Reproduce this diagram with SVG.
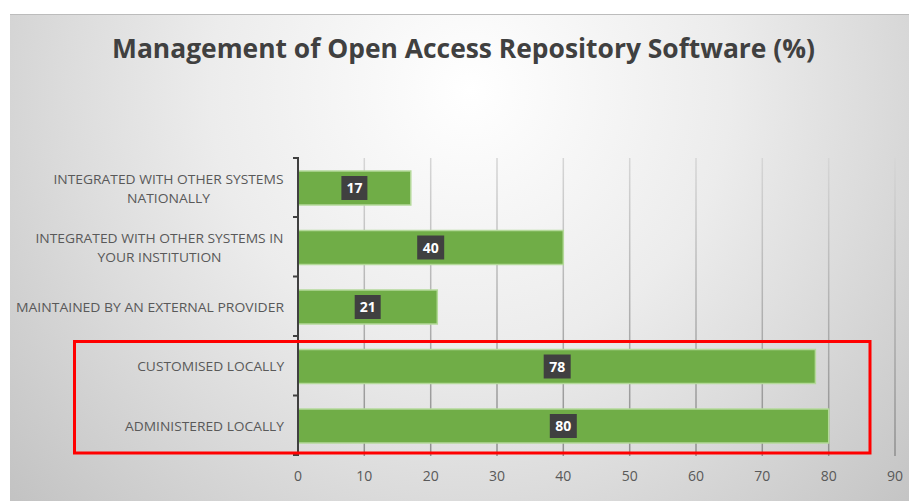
<svg xmlns="http://www.w3.org/2000/svg" width="909" height="501" viewBox="0 0 909 501">
  <defs>
    <radialGradient id="bgGrad" gradientUnits="userSpaceOnUse" cx="470" cy="90" r="620">
      <stop offset="0" stop-color="#ffffff"/>
      <stop offset="0.42" stop-color="#ececec"/>
      <stop offset="0.65" stop-color="#dcdcdc"/>
      <stop offset="1" stop-color="#c2c2c2"/>
    </radialGradient>
    <linearGradient id="gridGrad" gradientUnits="userSpaceOnUse" x1="0" y1="158" x2="0" y2="456">
      <stop offset="0" stop-color="#d6d6d6"/>
      <stop offset="1" stop-color="#8e8e8e"/>
    </linearGradient>
  </defs>
  <style>
    .title { font-family: "Open Sans", "Liberation Sans", sans-serif; font-weight: 700; font-size: 26px; fill: #404040; }
    .cat { font-family: "Open Sans", "Liberation Sans", sans-serif; font-size: 13.5px; fill: #595959; text-anchor: middle; }
    .tick { font-family: "Open Sans", "Liberation Sans", sans-serif; font-size: 14px; fill: #595959; text-anchor: middle; }
    .bar { fill: #70ad47; stroke: #b4d99a; stroke-width: 1.5; }
    .vbox { fill: #404040; }
    .val { font-family: "Open Sans", "Liberation Sans", sans-serif; font-weight: 700; font-size: 14px; fill: #ffffff; text-anchor: middle; }
    .grid { stroke: url(#gridGrad); stroke-width: 1.5; }
    .axis { stroke: #404040; stroke-width: 2; fill: none; }
    .highlight { fill: none; stroke: #ff0000; stroke-width: 3; }
  </style>

  <!-- chart background -->
  <rect x="0" y="0" width="909" height="501" fill="#ffffff"/>
  <rect x="10" y="14" width="899" height="487" fill="url(#bgGrad)"/>
  <line x1="10" y1="14.5" x2="909" y2="14.5" stroke="#bcbcbc" stroke-width="1"/>

  <!-- title -->
  <text class="title" x="112" y="57.5" textLength="703" lengthAdjust="spacingAndGlyphs">Management of Open Access Repository Software (%)</text>

  <!-- vertical gridlines, 10 to 90 -->
  <g id="gridlines">
    <line class="grid" x1="364.3" y1="158" x2="364.3" y2="456"/>
    <line class="grid" x1="430.7" y1="158" x2="430.7" y2="456"/>
    <line class="grid" x1="497" y1="158" x2="497" y2="456"/>
    <line class="grid" x1="563.3" y1="158" x2="563.3" y2="456"/>
    <line class="grid" x1="629.7" y1="158" x2="629.7" y2="456"/>
    <line class="grid" x1="696" y1="158" x2="696" y2="456"/>
    <line class="grid" x1="762.3" y1="158" x2="762.3" y2="456"/>
    <line class="grid" x1="828.7" y1="158" x2="828.7" y2="456"/>
    <line class="grid" x1="895" y1="158" x2="895" y2="456"/>
  </g>

  <!-- bars -->
  <g id="bar-nationally">
    <rect class="bar" x="298" y="171" width="112.8" height="34"/>
    <rect class="vbox" x="341.4" y="176" width="26" height="24"/>
    <text class="val" x="354.4" y="193.2">17</text>
  </g>
  <g id="bar-institution">
    <rect class="bar" x="298" y="230.5" width="265.3" height="34"/>
    <rect class="vbox" x="417.2" y="235.5" width="27" height="24"/>
    <text class="val" x="430.7" y="252.7">40</text>
  </g>
  <g id="bar-external">
    <rect class="bar" x="298" y="290" width="139.3" height="34"/>
    <rect class="vbox" x="354.7" y="295" width="26" height="24"/>
    <text class="val" x="367.7" y="312.2">21</text>
  </g>
  <g id="bar-customised">
    <rect class="bar" x="298" y="349.5" width="517.4" height="34"/>
    <rect class="vbox" x="543.7" y="354.5" width="27" height="24"/>
    <text class="val" x="557.2" y="371.7">78</text>
  </g>
  <g id="bar-administered">
    <rect class="bar" x="298" y="409" width="530.7" height="34"/>
    <rect class="vbox" x="549.8" y="414" width="27" height="24"/>
    <text class="val" x="563.3" y="431.2">80</text>
  </g>

  <!-- category axis with tick marks -->
  <g id="category-axis">
    <path class="axis" d="M298 157 V456 M293 158 H298 M293 217 H298 M293 276.5 H298 M293 336 H298 M293 395.5 H298 M293 455 H298"/>
  </g>

  <!-- category labels -->
  <g id="category-labels">
    <text class="cat" x="168.5" y="183.5" textLength="230" lengthAdjust="spacingAndGlyphs">INTEGRATED WITH OTHER SYSTEMS</text>
    <text class="cat" x="168.5" y="202.5" textLength="83" lengthAdjust="spacingAndGlyphs">NATIONALLY</text>
    <text class="cat" x="159.5" y="242.7" textLength="248" lengthAdjust="spacingAndGlyphs">INTEGRATED WITH OTHER SYSTEMS IN</text>
    <text class="cat" x="159.5" y="261.7" textLength="124" lengthAdjust="spacingAndGlyphs">YOUR INSTITUTION</text>
    <text class="cat" x="150" y="311.7" textLength="268" lengthAdjust="spacingAndGlyphs">MAINTAINED BY AN EXTERNAL PROVIDER</text>
    <text class="cat" x="210.7" y="370.7" textLength="147" lengthAdjust="spacingAndGlyphs">CUSTOMISED LOCALLY</text>
    <text class="cat" x="204.5" y="430.5" textLength="159" lengthAdjust="spacingAndGlyphs">ADMINISTERED LOCALLY</text>
  </g>

  <!-- value axis labels -->
  <g id="value-axis">
    <text class="tick" x="298" y="480.5">0</text>
    <text class="tick" x="364.3" y="480.5">10</text>
    <text class="tick" x="430.7" y="480.5">20</text>
    <text class="tick" x="497" y="480.5">30</text>
    <text class="tick" x="563.3" y="480.5">40</text>
    <text class="tick" x="629.7" y="480.5">50</text>
    <text class="tick" x="696" y="480.5">60</text>
    <text class="tick" x="762.3" y="480.5">70</text>
    <text class="tick" x="828.7" y="480.5">80</text>
    <text class="tick" x="895" y="480.5">90</text>
  </g>

  <!-- highlight frame around the two local categories -->
  <g id="highlight">
    <rect class="highlight" x="74.5" y="341.5" width="795.5" height="111.5"/>
  </g>
</svg>
